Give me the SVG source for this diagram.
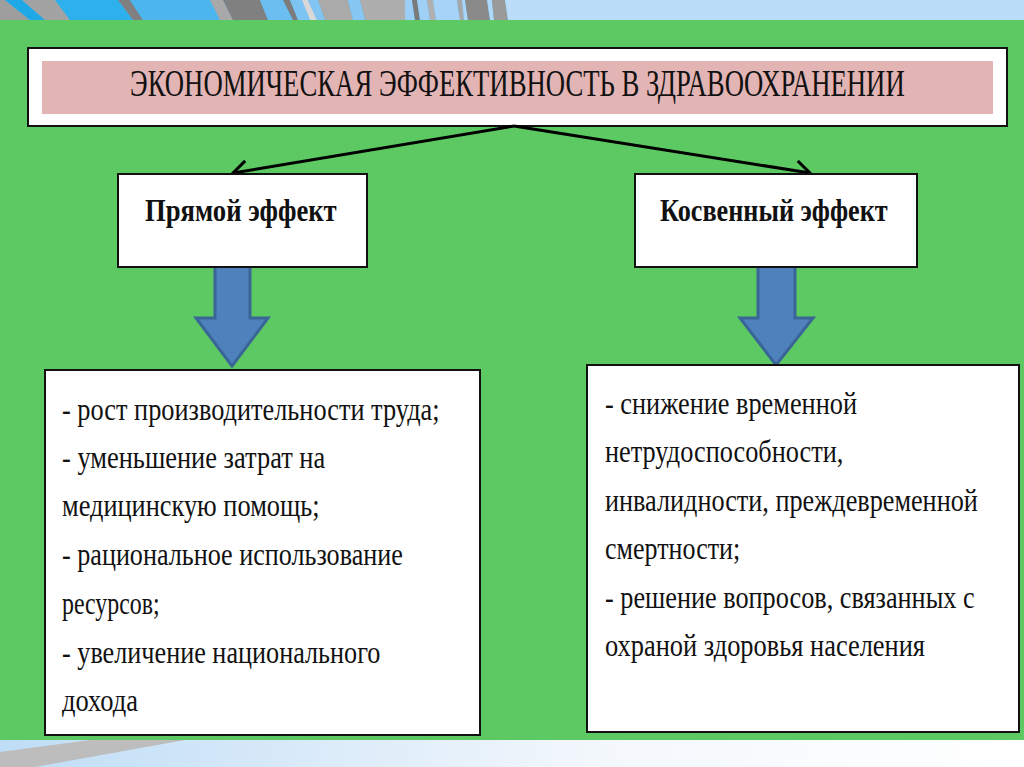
<svg xmlns="http://www.w3.org/2000/svg" width="1024" height="767" viewBox="0 0 1024 767">
<defs>
<style>
.box{fill:#fff;stroke:#111;stroke-width:2}
.t{font-family:'Liberation Serif',serif;fill:#111}
.body{font-size:32px}
.head{font-size:32px;font-weight:bold}
.conn{stroke:#000;stroke-width:3;fill:none}
.blk{fill:#4F81BD;stroke:#3A6697;stroke-width:3;stroke-linejoin:miter}
</style>
<marker id="open" markerUnits="userSpaceOnUse" markerWidth="20" markerHeight="26" refX="16" refY="11" orient="auto">
<path d="M2,1 L16,11 L2,21" fill="none" stroke="#000" stroke-width="3"/>
</marker>
<linearGradient id="bot" x1="0" y1="0" x2="1" y2="0">
<stop offset="0" stop-color="#BFDDF6"/>
<stop offset="0.6" stop-color="#F4F8FC"/>
<stop offset="1" stop-color="#FFFFFF"/>
</linearGradient>
</defs>

<rect x="0" y="0" width="1024" height="767" fill="#5DC963"/>

<g id="banner">
<rect x="0" y="0" width="1024" height="20" fill="#4DB5EE"/>
<polygon points="0,0 5,0 30,20 0,20" fill="#9E9E9E"/>
<polygon points="5,0 22,0 45,20 30,20" fill="#1EA9E6"/>
<polygon points="22,0 55,0 70,20 45,20" fill="#A3A3A3"/>
<polygon points="55,0 118,0 133,20 70,20" fill="#2DB0EB"/>
<polygon points="118,0 130,0 143,20 133,20" fill="#808080"/>
<polygon points="130,0 210,0 220,20 143,20" fill="#4DB5EE"/>
<polygon points="210,0 223,0 233,20 220,20" fill="#A8A8A8"/>
<polygon points="223,0 260,0 268,20 233,20" fill="#808080"/>
<polygon points="260,0 283,0 293,20 268,20" fill="#6CBEF0"/>
<polygon points="283,0 290,0 298,20 293,20" fill="#7C7C7C"/>
<polygon points="290,0 302,0 310,20 298,20" fill="#7EC4F2"/>
<polygon points="302,0 308,0 317,20 310,20" fill="#D8D8D8"/>
<polygon points="308,0 318,0 325,20 317,20" fill="#82C5F3"/>
<polygon points="318,0 348,0 353,20 325,20" fill="#AAAAAA"/>
<polygon points="348,0 360,0 365,20 353,20" fill="#86C7F4"/>
<polygon points="360,0 405,0 405,20 365,20" fill="#AEAEAE"/>
<polygon points="405,0 412,0 415,20 405,20" fill="#9CCFF6"/>
<polygon points="412,0 417,0 420,20 415,20" fill="#7A7A7A"/>
<polygon points="417,0 427,0 430,20 420,20" fill="#A0D0F6"/>
<polygon points="427,0 433,0 436,20 430,20" fill="#B0B0B0"/>
<polygon points="433,0 457,0 460,20 436,20" fill="#A6D3F7"/>
<polygon points="457,0 462,0 464,20 460,20" fill="#A8A8A8"/>
<polygon points="462,0 465,0 468,20 464,20" fill="#ACD6F8"/>
<polygon points="465,0 487,0 490,20 468,20" fill="#8A8A8A"/>
<polygon points="487,0 492,0 494,20 490,20" fill="#B0D8F8"/>
<polygon points="492,0 505,0 508,20 494,20" fill="#9A9A9A"/>
<polygon points="505,0 1024,0 1024,20 508,20" fill="#BCDDF9"/>
</g>

<g id="footer">
<rect x="0" y="740" width="1024" height="27" fill="url(#bot)"/>
<polygon points="0,752 90,740 185,740 35,767 0,767" fill="#BDBDBD"/>
</g>

<g id="title">
<rect class="box" x="28" y="48" width="979" height="78"/>
<rect x="42" y="61" width="951" height="53" fill="#E3B4B4"/>
<text class="t" transform="translate(130,96) scale(0.72,1)" x="0" y="0" font-size="37" textLength="1076" lengthAdjust="spacingAndGlyphs">ЭКОНОМИЧЕСКАЯ ЭФФЕКТИВНОСТЬ В ЗДРАВООХРАНЕНИИ</text>
</g>

<g id="connectors">
<line class="conn" x1="514" y1="126" x2="233" y2="173" marker-end="url(#open)"/>
<line class="conn" x1="514" y1="126" x2="810" y2="173" marker-end="url(#open)"/>
<polygon class="blk" points="215,266 250,266 250,318 268,318 232,366 196,318 215,318"/>
<polygon class="blk" points="758,266 795,266 795,318 813,318 776,365 740,318 758,318"/>
</g>

<g id="direct">
<rect class="box" x="118" y="174" width="249" height="93"/>
<text class="t head" transform="translate(145,221) scale(0.9,1)" x="0" y="0" textLength="213" lengthAdjust="spacingAndGlyphs">Прямой эффект</text>
</g>

<g id="indirect">
<rect class="box" x="635" y="174" width="282" height="93"/>
<text class="t head" transform="translate(660,221) scale(0.9,1)" x="0" y="0" textLength="253" lengthAdjust="spacingAndGlyphs">Косвенный эффект</text>
</g>

<g id="direct-list">
<rect class="box" x="45" y="370" width="435" height="365"/>
<g transform="translate(62,0) scale(0.8,1)">
<text class="t body" x="0" y="420" textLength="472" lengthAdjust="spacingAndGlyphs">- рост производительности труда;</text>
<text class="t body" x="0" y="468" textLength="329" lengthAdjust="spacingAndGlyphs">- уменьшение затрат на</text>
<text class="t body" x="0" y="516" textLength="322" lengthAdjust="spacingAndGlyphs">медицинскую помощь;</text>
<text class="t body" x="0" y="565" textLength="426" lengthAdjust="spacingAndGlyphs">- рациональное использование</text>
<text class="t body" x="0" y="614" textLength="122" lengthAdjust="spacingAndGlyphs">ресурсов;</text>
<text class="t body" x="0" y="663" textLength="398" lengthAdjust="spacingAndGlyphs">- увеличение национального</text>
<text class="t body" x="0" y="711" textLength="95" lengthAdjust="spacingAndGlyphs">дохода</text>
</g>
</g>

<g id="indirect-list">
<rect class="box" x="587" y="365" width="432" height="367"/>
<g transform="translate(605,0) scale(0.8,1)">
<text class="t body" x="0" y="414" textLength="315" lengthAdjust="spacingAndGlyphs">- снижение временной</text>
<text class="t body" x="0" y="462" textLength="298" lengthAdjust="spacingAndGlyphs">нетрудоспособности,</text>
<text class="t body" x="0" y="511" textLength="466" lengthAdjust="spacingAndGlyphs">инвалидности, преждевременной</text>
<text class="t body" x="0" y="559" textLength="169" lengthAdjust="spacingAndGlyphs">смертности;</text>
<text class="t body" x="0" y="608" textLength="462" lengthAdjust="spacingAndGlyphs">- решение вопросов, связанных с</text>
<text class="t body" x="0" y="656" textLength="400" lengthAdjust="spacingAndGlyphs">охраной здоровья населения</text>
</g>
</g>
</svg>
